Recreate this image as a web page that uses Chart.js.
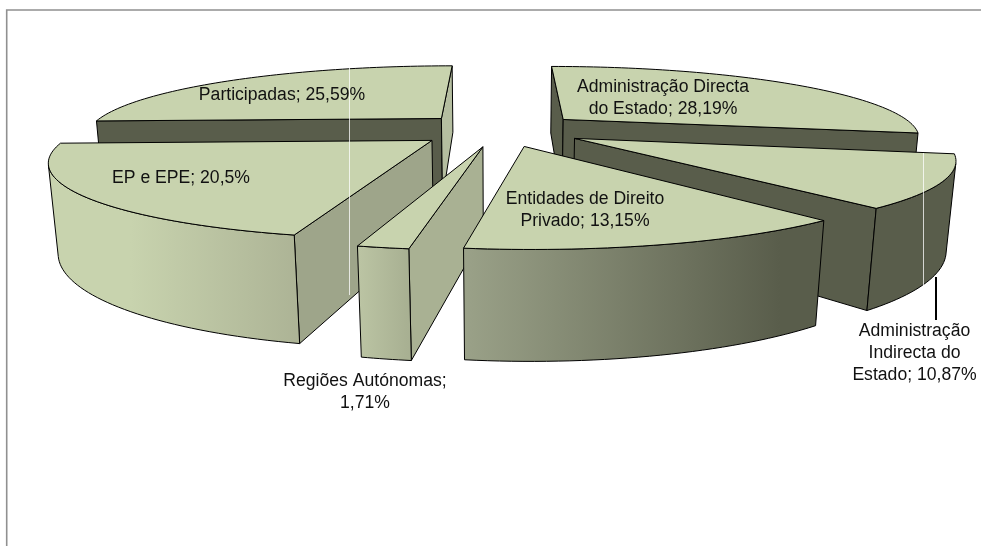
<!DOCTYPE html>
<html lang="pt">
<head>
<meta charset="utf-8">
<style>html,body{margin:0;padding:0;background:#fff}canvas{display:block}</style>
<script src="https://cdn.jsdelivr.net/npm/chart.js@4"></script>
</head>
<body>
<canvas id="c" width="981" height="546"></canvas>
<script>
const categories = ["Administração Directa do Estado","Administração Indirecta do Estado","Entidades de Direito Privado","Regiões Autónomas","EP e EPE","Participadas"];
const shares = [28.19,10.87,13.15,1.71,20.5,25.59];
const shareText = ["28,19%","10,87%","13,15%","1,71%","20,5%","25,59%"];

// Presentation only (not data)
const labelLines = [
  ["Administração Directa","do Estado; "+shareText[0]],
  ["Administração","Indirecta do","Estado; "+shareText[1]],
  ["Entidades de Direito","Privado; "+shareText[2]],
  ["Regiões Autónomas;",shareText[3]],
  ["EP e EPE; "+shareText[4]],
  ["Participadas; "+shareText[5]]
];
const labelCentres = [[663,98],[914.5,353],[585,210],[365,392],[181,178],[282,95]];
const paintOrder = [5,0,1,4,3,2];
const DARK = "#595d4b", TOP = "#c8d3ae", INK = "#000";
const startFace = [DARK,DARK,DARK,"#a9b193","#9ea58a",DARK];
const endFace   = [DARK,DARK,DARK,"#a9b193","#9ea58a","#b5bea0"];
const rimStops = [
  [[0,DARK],[981,DARK]],
  [[0,DARK],[981,DARK]],
  [[465,"#9aa188"],[780,"#595d4b"]],
  [[357,"#bcc5a4"],[408,"#a8b092"]],
  [[130,"#c8d3ae"],[295,"#adb496"]],
  [[0,"#c8d3ae"],[981,"#c8d3ae"]]
];
const EXPLODE = 0.238;

function project(X,Y,Z){
  const den = 1 - 0.233*Y + 0.02*Z;
  return [500 + 355*X/den, 129.6 + (69.6*Y + 84.5*Z)/den];
}
function frontFacing(a,b,c,d){
  const p=[a,b,c,d]; let s=0;
  for(let i=0;i<4;i++){const q=p[(i+1)%4]; s+=p[i][0]*q[1]-q[0]*p[i][1];}
  return s<0;
}
function poly(ctx,pts){
  ctx.beginPath();
  pts.forEach((p,i)=> i?ctx.lineTo(p[0],p[1]):ctx.moveTo(p[0],p[1]));
  ctx.closePath();
}
function paint(ctx,pts,fill){
  poly(ctx,pts);
  ctx.fillStyle=fill; ctx.fill();
  ctx.strokeStyle=INK; ctx.lineWidth=1; ctx.lineJoin="round"; ctx.stroke();
}

const pie3d = {
  id:"pie3d",
  beforeDraw(chart){
    const ctx=chart.ctx;
    ctx.save();
    ctx.strokeStyle="#909090"; ctx.lineWidth=1.6;
    ctx.beginPath(); ctx.moveTo(6.7,546); ctx.lineTo(6.7,10); ctx.lineTo(981,10); ctx.stroke();
    ctx.restore();
  },
  beforeDatasetsDraw(chart){
    const ctx=chart.ctx, arcs=chart.getDatasetMeta(0).data;
    ctx.save();
    paintOrder.forEach(i=>{
      const a=arcs[i];
      const t0=a.startAngle+Math.PI/2, t1=a.endAngle+Math.PI/2, m=(t0+t1)/2;
      const ox=EXPLODE*Math.sin(m), oy=-EXPLODE*Math.cos(m);
      const n=Math.max(8,Math.ceil((t1-t0)*40));
      const rim=[];
      for(let k=0;k<=n;k++){
        const t=t0+(t1-t0)*k/n;
        rim.push([ox+Math.sin(t),oy-Math.cos(t)]);
      }
      const top=q=>project(q[0],q[1],0), bot=q=>project(q[0],q[1],1);
      const apex=[ox,oy];
      const first=rim[0], last=rim[n];
      if(frontFacing(top(apex),top(first),bot(first),bot(apex)))
        paint(ctx,[top(apex),top(first),bot(first),bot(apex)],startFace[i]);
      if(frontFacing(top(last),top(apex),bot(apex),bot(last)))
        paint(ctx,[top(last),top(apex),bot(apex),bot(last)],endFace[i]);
      const stops=rimStops[i];
      const wall=ctx.createLinearGradient(stops[0][0],0,stops[1][0],0);
      wall.addColorStop(0,stops[0][1]);
      wall.addColorStop(1,stops[1][1]);
      let run=[];
      const flush=()=>{
        if(run.length>1) paint(ctx,run.map(top).concat(run.slice().reverse().map(bot)),wall);
        run=[];
      };
      for(let k=0;k<n;k++){
        const p=rim[k], q=rim[k+1];
        if(frontFacing(top(p),top(q),bot(q),bot(p))){
          if(!run.length) run.push(p);
          run.push(q);
        } else flush();
      }
      flush();
      paint(ctx,[top(apex)].concat(rim.map(top)),TOP);
    });
    // leader line of the Indirecta label
    ctx.strokeStyle="#000"; ctx.lineWidth=2;
    ctx.beginPath(); ctx.moveTo(936,277); ctx.lineTo(936,320); ctx.stroke();
    // thin light seams in the picture
    ctx.strokeStyle="rgba(255,255,255,.75)"; ctx.lineWidth=1;
    ctx.beginPath();
    ctx.moveTo(349.5,67); ctx.lineTo(349.5,295);
    ctx.moveTo(923.5,153); ctx.lineTo(923.5,287);
    ctx.stroke();
    // labels
    ctx.fillStyle="#111";
    ctx.font='17.6px "Liberation Sans", Arial, sans-serif';
    ctx.textAlign="center"; ctx.textBaseline="middle";
    labelLines.forEach((lines,i)=>{
      const [cx,cy]=labelCentres[i];
      lines.forEach((s,j)=>ctx.fillText(s,cx,cy+(j-(lines.length-1)/2)*21.8));
    });
    ctx.restore();
    return false;
  }
};

new Chart(document.getElementById("c"),{
  type:"pie",
  data:{labels:categories,datasets:[{data:shares}]},
  options:{
    responsive:false,animation:false,rotation:0,
    events:[],
    plugins:{legend:{display:false},tooltip:{enabled:false},title:{display:false}}
  },
  plugins:[pie3d]
});
</script>
</body>
</html>
